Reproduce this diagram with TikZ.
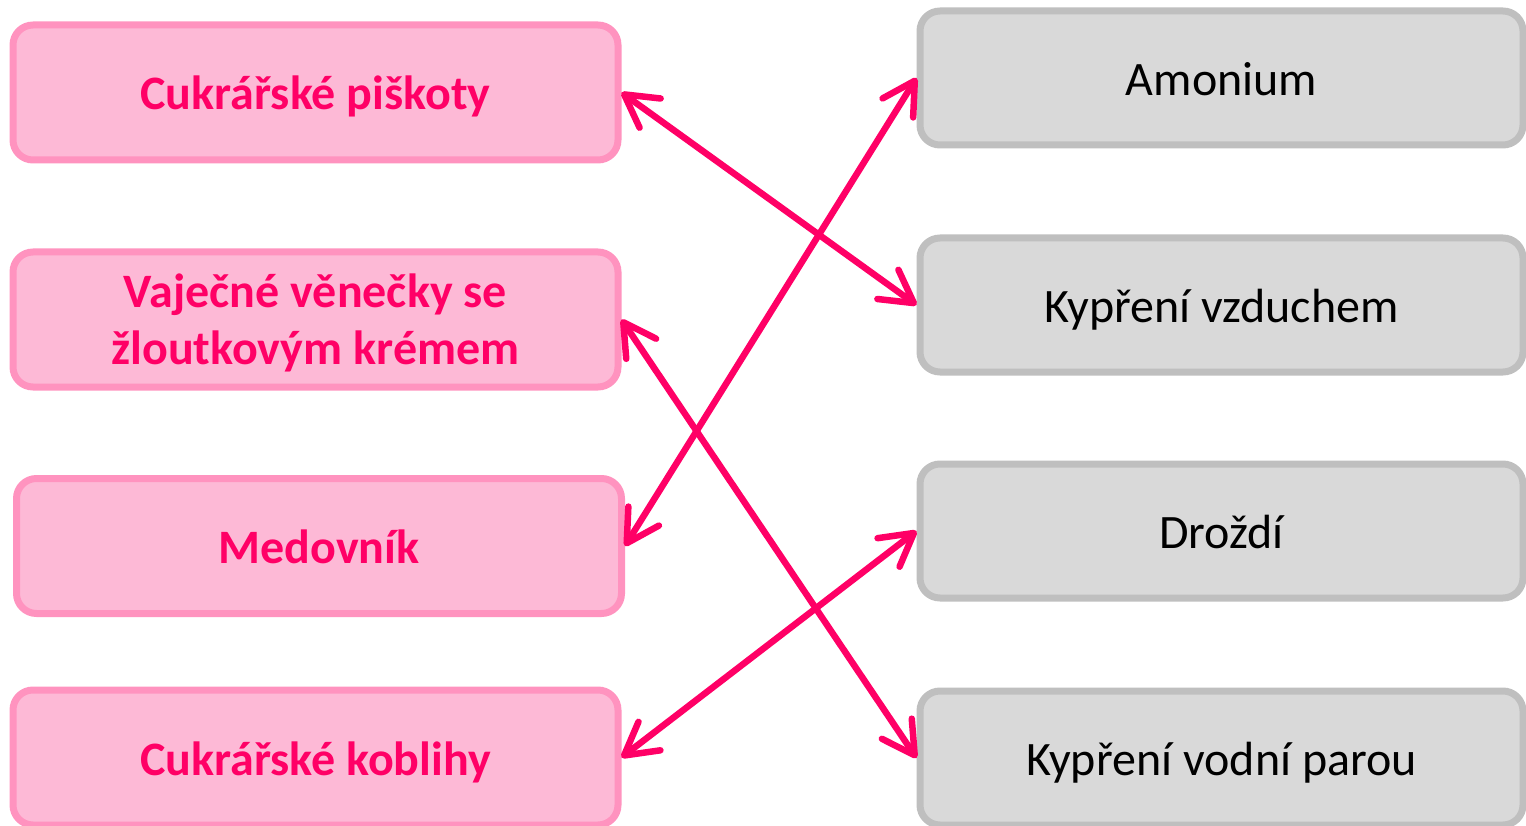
\documentclass[tikz,border=0pt]{standalone}
\usepackage{fontspec}
\setmainfont{Carlito}
\usetikzlibrary{arrows.meta}
\definecolor{pinkfill}{HTML}{FDB9D6}
\definecolor{pinkline}{HTML}{FF93BF}
\definecolor{pinktext}{HTML}{FF0066}
\definecolor{grayfill}{HTML}{D9D9D9}
\definecolor{grayline}{HTML}{BFBFBF}
\tikzset{
  box/.style={line width=7pt, rounded corners=20pt, inner sep=0pt, align=center,
    text height=35pt, text depth=0pt},
  leftbox/.style={box, draw=pinkline, fill=pinkfill,
    minimum width=605pt, minimum height=135pt,
    text=pinktext, font=\fontsize{48}{57}\selectfont\bfseries},
  rightbox/.style={box, draw=grayline, fill=grayfill,
    minimum width=603pt, minimum height=134pt,
    text=black, font=\fontsize{48}{57}\selectfont},
  link/.style={draw=pinktext, line width=6.5pt,
    >={Straight Barb[length=32pt,width=36pt,line cap=round,line join=round]}, <->}
}
\begin{document}
\begin{tikzpicture}[x=1pt,y=-1pt]
\useasboundingbox (0,0) rectangle (1526,826);
\node[leftbox] (L1) at (315.5,92.5) {Cukrářské piškoty};
\node[leftbox, text height=90pt] (L2) at (315.5,319.5) {Vaječné věnečky se\\žloutkovým krémem};
\node[leftbox] (L3) at (319,546) {Medovník};
\node[leftbox] (L4) at (315.5,757.5) {Cukrářské koblihy};
\node[rightbox] (R1) at (1221.5,78) {Amonium};
\node[rightbox] (R2) at (1221.5,305) {Kypření vzduchem};
\node[rightbox] (R3) at (1221.5,531) {Droždí};
\node[rightbox] (R4) at (1221.5,758) {Kypření vodní parou};
\draw[link] (L1.east) -- (R2.west);
\draw[link] (L2.east) -- (R4.west);
\draw[link] (L3.east) -- (R1.west);
\draw[link] (L4.east) -- (R3.west);
\end{tikzpicture}
\end{document}
